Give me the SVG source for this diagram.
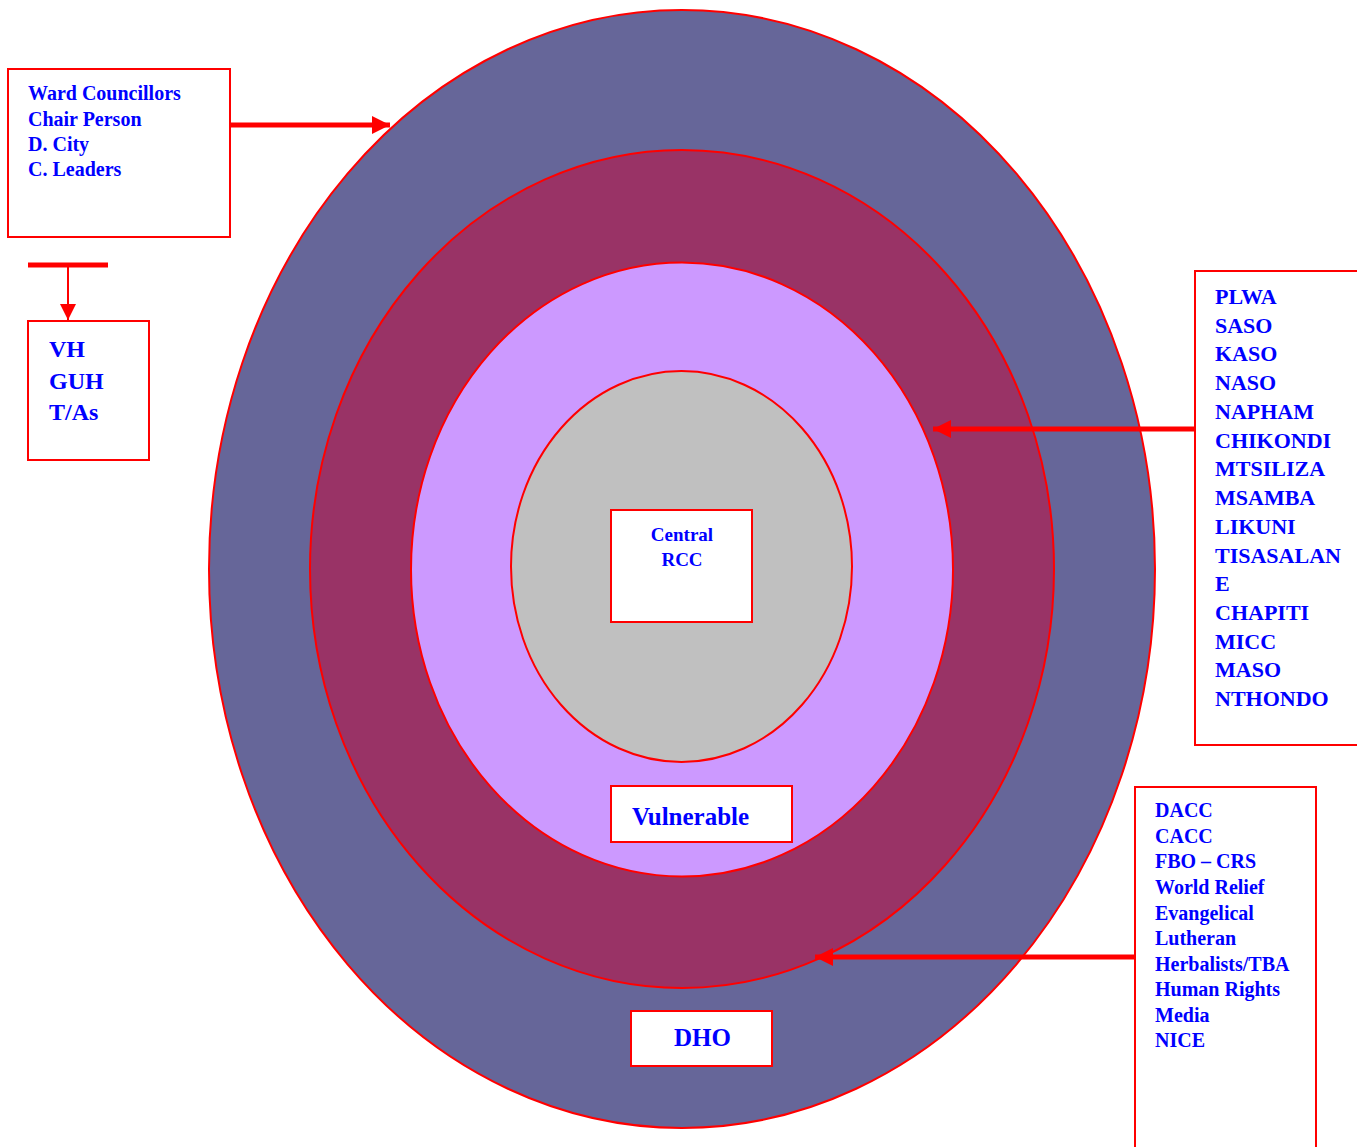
<svg xmlns="http://www.w3.org/2000/svg" width="1357" height="1147" viewBox="0 0 1357 1147">
<defs>
<style>
.box{fill:#fff;stroke:#ff0000;stroke-width:2}
.ring{stroke:#ff0000;stroke-width:2}
.t{font-family:"Liberation Serif",serif;font-weight:bold;fill:#0000ff}
.thick{stroke:#ff0000;stroke-width:5;fill:none}
.thin{stroke:#ff0000;stroke-width:2;fill:none}
</style>
<marker id="ah" viewBox="0 0 10 10" refX="10" refY="5" markerWidth="4" markerHeight="3.6" markerUnits="strokeWidth" orient="auto"><path d="M0,0L10,5L0,10z" fill="#ff0000"/></marker>
<marker id="ahs" viewBox="0 0 10 10" refX="10" refY="5" markerWidth="8" markerHeight="8" markerUnits="strokeWidth" orient="auto"><path d="M0,0L10,5L0,10z" fill="#ff0000"/></marker>
</defs>
<g id="rings">
<ellipse class="ring" cx="682" cy="569" rx="473" ry="559" fill="#666699"/>
<ellipse class="ring" cx="682" cy="569" rx="372" ry="419" fill="#993366"/>
<ellipse class="ring" cx="682" cy="569.5" rx="271" ry="307" fill="#cc99ff"/>
<ellipse class="ring" cx="681.5" cy="566.5" rx="170.5" ry="195.5" fill="#c0c0c0"/>
</g>
<g id="connectors">
<line class="thick" x1="230" y1="125" x2="390" y2="125" marker-end="url(#ah)"/>
<line class="thick" x1="28" y1="265" x2="108" y2="265"/>
<line class="thin" x1="68" y1="265" x2="68" y2="320" marker-end="url(#ahs)"/>
<line class="thick" x1="1195" y1="429" x2="933" y2="429" marker-end="url(#ah)"/>
<line class="thick" x1="1135" y1="957" x2="815" y2="957" marker-end="url(#ah)"/>
</g>
<g id="node-ward">
<rect class="box" x="8" y="69" width="222" height="168"/>
<text class="t" font-size="20"><tspan x="28" y="100">Ward Councillors</tspan><tspan x="28" y="126">Chair Person</tspan><tspan x="28" y="151">D. City</tspan><tspan x="28" y="176">C. Leaders</tspan></text>
</g>
<g id="node-vh">
<rect class="box" x="28" y="321" width="121" height="139"/>
<text class="t" font-size="24"><tspan x="49" y="357">VH</tspan><tspan x="49" y="389">GUH</tspan><tspan x="49" y="420">T/As</tspan></text>
</g>
<g id="node-central">
<rect class="box" x="611" y="510" width="141" height="112"/>
<text class="t" font-size="19" text-anchor="middle"><tspan x="682" y="541">Central</tspan><tspan x="682" y="566">RCC</tspan></text>
</g>
<g id="node-vulnerable">
<rect class="box" x="611" y="786" width="181" height="56"/>
<text class="t" font-size="25" x="632" y="825">Vulnerable</text>
</g>
<g id="node-dho">
<rect class="box" x="631" y="1011" width="141" height="55"/>
<text class="t" font-size="25" x="674" y="1046">DHO</text>
</g>
<g id="node-plwa">
<rect class="box" x="1195" y="271" width="175" height="474"/>
<text class="t" font-size="22"><tspan x="1215" y="304">PLWA</tspan><tspan x="1215" y="333">SASO</tspan><tspan x="1215" y="361">KASO</tspan><tspan x="1215" y="390">NASO</tspan><tspan x="1215" y="419">NAPHAM</tspan><tspan x="1215" y="448">CHIKONDI</tspan><tspan x="1215" y="476">MTSILIZA</tspan><tspan x="1215" y="505">MSAMBA</tspan><tspan x="1215" y="534">LIKUNI</tspan><tspan x="1215" y="563">TISASALAN</tspan><tspan x="1215" y="591">E</tspan><tspan x="1215" y="620">CHAPITI</tspan><tspan x="1215" y="649">MICC</tspan><tspan x="1215" y="677">MASO</tspan><tspan x="1215" y="706">NTHONDO</tspan></text>
</g>
<g id="node-dacc">
<rect class="box" x="1135" y="787" width="181" height="380"/>
<text class="t" font-size="20"><tspan x="1155" y="817">DACC</tspan><tspan x="1155" y="843">CACC</tspan><tspan x="1155" y="868">FBO – CRS</tspan><tspan x="1155" y="894">World Relief</tspan><tspan x="1155" y="920">Evangelical</tspan><tspan x="1155" y="945">Lutheran</tspan><tspan x="1155" y="971">Herbalists/TBA</tspan><tspan x="1155" y="996">Human Rights</tspan><tspan x="1155" y="1022">Media</tspan><tspan x="1155" y="1047">NICE</tspan></text>
</g>
</svg>
